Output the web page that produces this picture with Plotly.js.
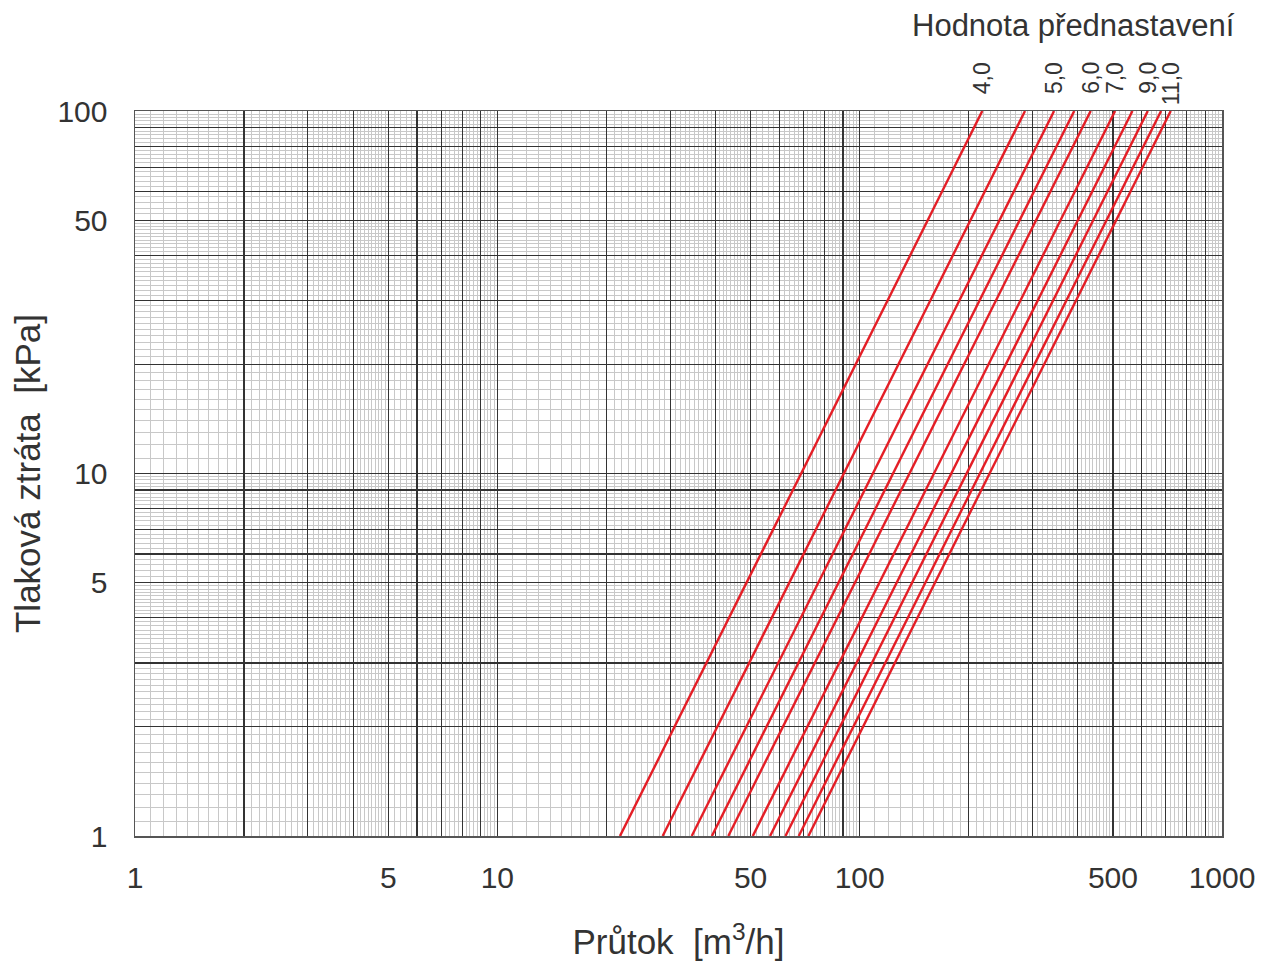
<!DOCTYPE html>
<html>
<head>
<meta charset="utf-8">
<script src="https://cdn.plot.ly/plotly-3.0.1.min.js"></script>
<style>html,body{margin:0;padding:0;background:#fff;}#chart{width:1262px;height:964px;}</style>
</head>
<body>
<div id="chart"></div>
<script>
// Presetting values (labels drawn above the lines; empty = unlabeled line)
const settingLabels = ["4,0", "", "5,0", "", "6,0", "7,0", "", "9,0", "", "11,0"];
// Flow [m3/h] at 1 kPa pressure loss (read at bottom edge)
const flowAt1kPa   = [21.8, 28.6, 34.4, 39.1, 43.4, 50.7, 56.6, 62.4, 67.9, 72.2];
// Flow [m3/h] at 100 kPa pressure loss (read at top edge)
const flowAt100kPa = [218, 286, 344, 391, 434, 507, 566, 624, 679, 722];
const pressureEnds = [1, 100];

const xLabeled = [1, 5, 10, 50, 100, 500, 1000];
const yLabeled = [1, 5, 10, 50, 100];

const FONT = "Liberation Sans, Arial, Helvetica, sans-serif";
const TXT = "#333333";

function gridVals(decades, last) {
  const major = [], minor = [];
  decades.forEach(d => {
    for (let i = 1; i <= 9; i++) major.push(+(i * d).toPrecision(6));
    for (let v = 1.1; v < 5 - 1e-9; v += 0.1) {
      if (Math.abs(v - Math.round(v)) > 1e-6) minor.push(+(v * d).toPrecision(6));
    }
    for (let v = 5.2; v < 10 - 1e-9; v += 0.2) {
      if (Math.abs(v - Math.round(v)) > 1e-6) minor.push(+(v * d).toPrecision(6));
    }
  });
  major.push(last);
  return {major, minor};
}
const gx = gridVals([1, 10, 100], 1000);
const gy = gridVals([1, 10], 100);
const labelFor = (vals, labeled) => vals.map(v => labeled.some(l => Math.abs(l - v) < 1e-9) ? String(v) : "");

const traces = flowAt1kPa.map((q1, i) => ({
  type: "scatter", mode: "lines",
  x: [q1, flowAt100kPa[i]], y: pressureEnds,
  line: {color: "#e41e26", width: 2.4},
  hoverinfo: "skip", showlegend: false
}));

const annotations = [];
settingLabels.forEach((lab, i) => {
  if (!lab) return;
  annotations.push({
    xref: "x", yref: "paper", x: Math.log10(flowAt100kPa[i]), y: 1,
    xanchor: "center", yanchor: "top", yshift: 51,
    text: lab, textangle: -90, showarrow: false,
    font: {family: FONT, size: 23, color: TXT}
  });
});
annotations.push({
  xref: "paper", yref: "paper", x: 1, y: 1, xanchor: "right", yanchor: "middle",
  xshift: 15, yshift: 86, text: "Hodnota přednastavení", showarrow: false,
  font: {family: FONT, size: 31, color: TXT}
});

const axisCommon = {
  type: "log", showline: true, mirror: true, linecolor: "#555", linewidth: 1.5,
  ticks: "", showgrid: true, gridcolor: "#333", gridwidth: 1.2, zeroline: false,
  tickfont: {family: FONT, size: 30, color: TXT}, automargin: false,
  layer: "below traces"
};

const layout = {
  width: 1262, height: 964,
  margin: {l: 135, r: 40, t: 111, b: 128},
  paper_bgcolor: "#fff", plot_bgcolor: "#fff",
  xaxis: Object.assign({}, axisCommon, {
    range: [0, 3],
    tickmode: "array", tickvals: gx.major, ticktext: labelFor(gx.major, xLabeled),
    ticklabelstandoff: 14,
    minor: {tickmode: "array", tickvals: gx.minor, showgrid: true, gridcolor: "#c8c8c8", gridwidth: 1, ticks: ""},
    title: {text: "Průtok  [m<sup>3</sup>/h]", font: {family: FONT, size: 35, color: TXT}, standoff: 37}
  }),
  yaxis: Object.assign({}, axisCommon, {
    range: [0, 2],
    tickmode: "array", tickvals: gy.major, ticktext: labelFor(gy.major, yLabeled),
    ticklabelstandoff: 20,
    minor: {tickmode: "array", tickvals: gy.minor, showgrid: true, gridcolor: "#c8c8c8", gridwidth: 1, ticks: ""},
    title: {text: "Tlaková ztráta  [kPa]", font: {family: FONT, size: 35, color: TXT}, standoff: 6}
  }),
  annotations: annotations
};

Plotly.newPlot("chart", traces, layout, {displayModeBar: false, staticPlot: true});
</script>
</body>
</html>
